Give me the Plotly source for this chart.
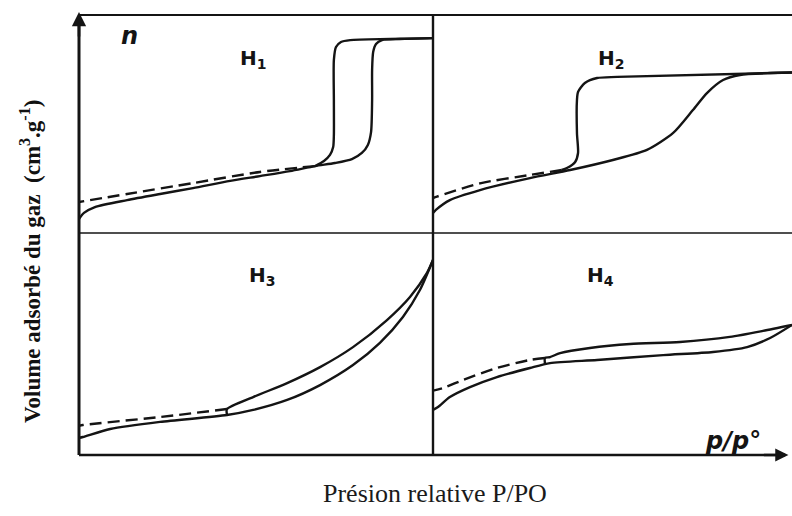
import plotly.graph_objects as go
from plotly.subplots import make_subplots

# Relative pressure P/P0 (x) and relative adsorbed volume (y) for the four
# IUPAC hysteresis loop types. "ads" = adsorption branch, "des" = desorption
# branch, "dash" = low-pressure part of the desorption branch.
h1_ads_x = [0.0, 0.014, 0.045, 0.136, 0.229, 0.322, 0.427, 0.511, 0.596, 0.667, 0.723, 0.771,
            0.799, 0.816, 0.825, 0.828, 0.828, 0.831, 0.839, 0.856, 0.907, 1.0]
h1_ads_y = [0.064, 0.092, 0.119, 0.151, 0.179, 0.206, 0.239, 0.261, 0.284, 0.307, 0.321, 0.339,
            0.367, 0.404, 0.463, 0.610, 0.748, 0.830, 0.867, 0.885, 0.890, 0.894]
h1_des_x = [1.0, 0.879, 0.766, 0.740, 0.726, 0.720, 0.720, 0.720, 0.718, 0.709, 0.692, 0.667]
h1_des_y = [0.894, 0.890, 0.885, 0.876, 0.853, 0.794, 0.610, 0.450, 0.394, 0.358, 0.330, 0.307]
h1_dash_x = [0.667, 0.511, 0.322, 0.136, 0.0]
h1_dash_y = [0.307, 0.280, 0.229, 0.179, 0.142]

h2_ads_x = [0.0, 0.008, 0.047, 0.131, 0.270, 0.382, 0.501, 0.596, 0.669, 0.724, 0.763, 0.808,
            0.855, 0.939, 1.0]
h2_ads_y = [0.092, 0.106, 0.151, 0.197, 0.252, 0.289, 0.335, 0.381, 0.459, 0.564, 0.642, 0.702,
            0.725, 0.734, 0.736]
h2_des_x = [1.0, 0.513, 0.457, 0.423, 0.404, 0.401, 0.401, 0.404, 0.396, 0.373, 0.359]
h2_des_y = [0.736, 0.716, 0.711, 0.688, 0.647, 0.610, 0.459, 0.367, 0.326, 0.298, 0.289]
h2_dash_x = [0.359, 0.270, 0.131, 0.011, 0.0]
h2_dash_y = [0.289, 0.266, 0.228, 0.167, 0.160]

h3_ads_x = [0.0, 0.011, 0.088, 0.229, 0.418, 0.492, 0.588, 0.681, 0.774, 0.850, 0.915, 0.963, 1.0]
h3_ads_y = [0.077, 0.081, 0.117, 0.149, 0.180, 0.203, 0.248, 0.315, 0.405, 0.505, 0.622, 0.743, 0.878]
h3_des_x = [1.0, 0.983, 0.935, 0.870, 0.774, 0.681, 0.588, 0.492, 0.418, 0.418]
h3_des_y = [0.878, 0.820, 0.712, 0.608, 0.486, 0.396, 0.324, 0.261, 0.207, 0.182]
h3_dash_x = [0.418, 0.229, 0.011, 0.0]
h3_dash_y = [0.207, 0.171, 0.135, 0.131]

h4_ads_x = [0.0, 0.014, 0.047, 0.103, 0.178, 0.270, 0.326, 0.457, 0.641, 0.780, 0.875, 0.939, 1.0]
h4_ads_y = [0.203, 0.216, 0.261, 0.306, 0.351, 0.392, 0.414, 0.428, 0.450, 0.464, 0.486, 0.527, 0.586]
h4_des_x = [1.0, 0.919, 0.827, 0.688, 0.549, 0.437, 0.354, 0.326, 0.312, 0.312]
h4_des_y = [0.586, 0.559, 0.532, 0.509, 0.500, 0.482, 0.459, 0.441, 0.437, 0.410]
h4_dash_x = [0.312, 0.270, 0.178, 0.084, 0.028, 0.0]
h4_dash_y = [0.437, 0.428, 0.392, 0.338, 0.302, 0.290]

panel_names = ["H<sub>1</sub>", "H<sub>2</sub>", "H<sub>3</sub>", "H<sub>4</sub>"]
y_title = "Volume adsorbé du gaz  (cm<sup>3</sup>.g<sup>-1</sup>)"
x_title = "Présion relative P/PO"

panels = [
    (1, 1, h1_ads_x, h1_ads_y, h1_des_x, h1_des_y, h1_dash_x, h1_dash_y),
    (1, 2, h2_ads_x, h2_ads_y, h2_des_x, h2_des_y, h2_dash_x, h2_dash_y),
    (2, 1, h3_ads_x, h3_ads_y, h3_des_x, h3_des_y, h3_dash_x, h3_dash_y),
    (2, 2, h4_ads_x, h4_ads_y, h4_des_x, h4_des_y, h4_dash_x, h4_dash_y),
]

INK = "#141414"
LW = 2.4

fig = make_subplots(rows=2, cols=2, horizontal_spacing=0, vertical_spacing=0,
                    column_widths=[354, 359], row_heights=[218, 222])

for r, c, ax_, ay_, dx_, dy_, sx_, sy_ in panels:
    fig.add_trace(go.Scatter(x=ax_, y=ay_, mode="lines",
                             line=dict(color=INK, width=LW, shape="spline", smoothing=0.7),
                             hoverinfo="skip"), row=r, col=c)
    fig.add_trace(go.Scatter(x=dx_, y=dy_, mode="lines",
                             line=dict(color=INK, width=LW, shape="spline", smoothing=0.7),
                             hoverinfo="skip"), row=r, col=c)
    fig.add_trace(go.Scatter(x=sx_, y=sy_, mode="lines",
                             line=dict(color=INK, width=LW, dash="12px,6px",
                                       shape="spline", smoothing=0.7),
                             hoverinfo="skip"), row=r, col=c)

fig.update_xaxes(range=[0, 1], visible=False, fixedrange=True)
fig.update_yaxes(range=[0, 1], visible=False, fixedrange=True)

# frame lines of the 2x2 grid (paper coordinates)
xs = 354 / 713
ys = 222 / 440
frame = [
    (0, 0, 0, 0.995, 3.0),      # vertical axis
    (0, 0, 0.99, 0, 2.6),       # horizontal axis
    (0, 1, 1, 1, 2.2),          # top border
    (0, ys, 1, ys, 1.6),        # middle horizontal
    (xs, 0, xs, 1, 2.4),        # middle vertical
]
for x0, y0, x1, y1, w in frame:
    fig.add_shape(type="line", xref="paper", yref="paper", x0=x0, y0=y0, x1=x1, y1=y1,
                  line=dict(color=INK, width=w))

# arrow heads of the two axes
fig.add_annotation(xref="paper", yref="paper", x=0, y=1.007, ax=0, ay=26, text="",
                   showarrow=True, arrowhead=2, arrowsize=1.1, arrowwidth=2.6, arrowcolor=INK)
fig.add_annotation(xref="paper", yref="paper", x=0.995, y=0, ax=-26, ay=0, text="",
                   showarrow=True, arrowhead=2, arrowsize=1.1, arrowwidth=2.4, arrowcolor=INK)


def label(px, py, text, size, family, color=INK, angle=0):
    fig.add_annotation(xref="paper", yref="paper", x=(px - 79) / 713, y=(455 - py) / 440,
                       text=text, showarrow=False, xanchor="center", yanchor="middle",
                       textangle=angle, font=dict(family=family, size=size, color=color))


# panel labels
label_pos = [(253, 59), (611, 59), (262, 276), (600, 276)]
for name, (px, py) in zip(panel_names, label_pos):
    label(px, py, "<b>" + name + "</b>", 20, "DejaVu Sans")

label(129, 36, "<b><i>n</i></b>", 24, "DejaVu Sans")
label(733, 441, "<b><i>p/p°</i></b>", 24, "DejaVu Sans")

# axis titles
label(30, 262, "<b>" + y_title + "</b>", 23, "Liberation Serif", "#111111", -90)
label(435, 493, x_title, 26, "Liberation Serif", "#1a1a1a")

fig.update_layout(width=792, height=516, margin=dict(l=79, r=0, t=15, b=61),
                  paper_bgcolor="white", plot_bgcolor="white", showlegend=False)

fig.write_html("out.html")
